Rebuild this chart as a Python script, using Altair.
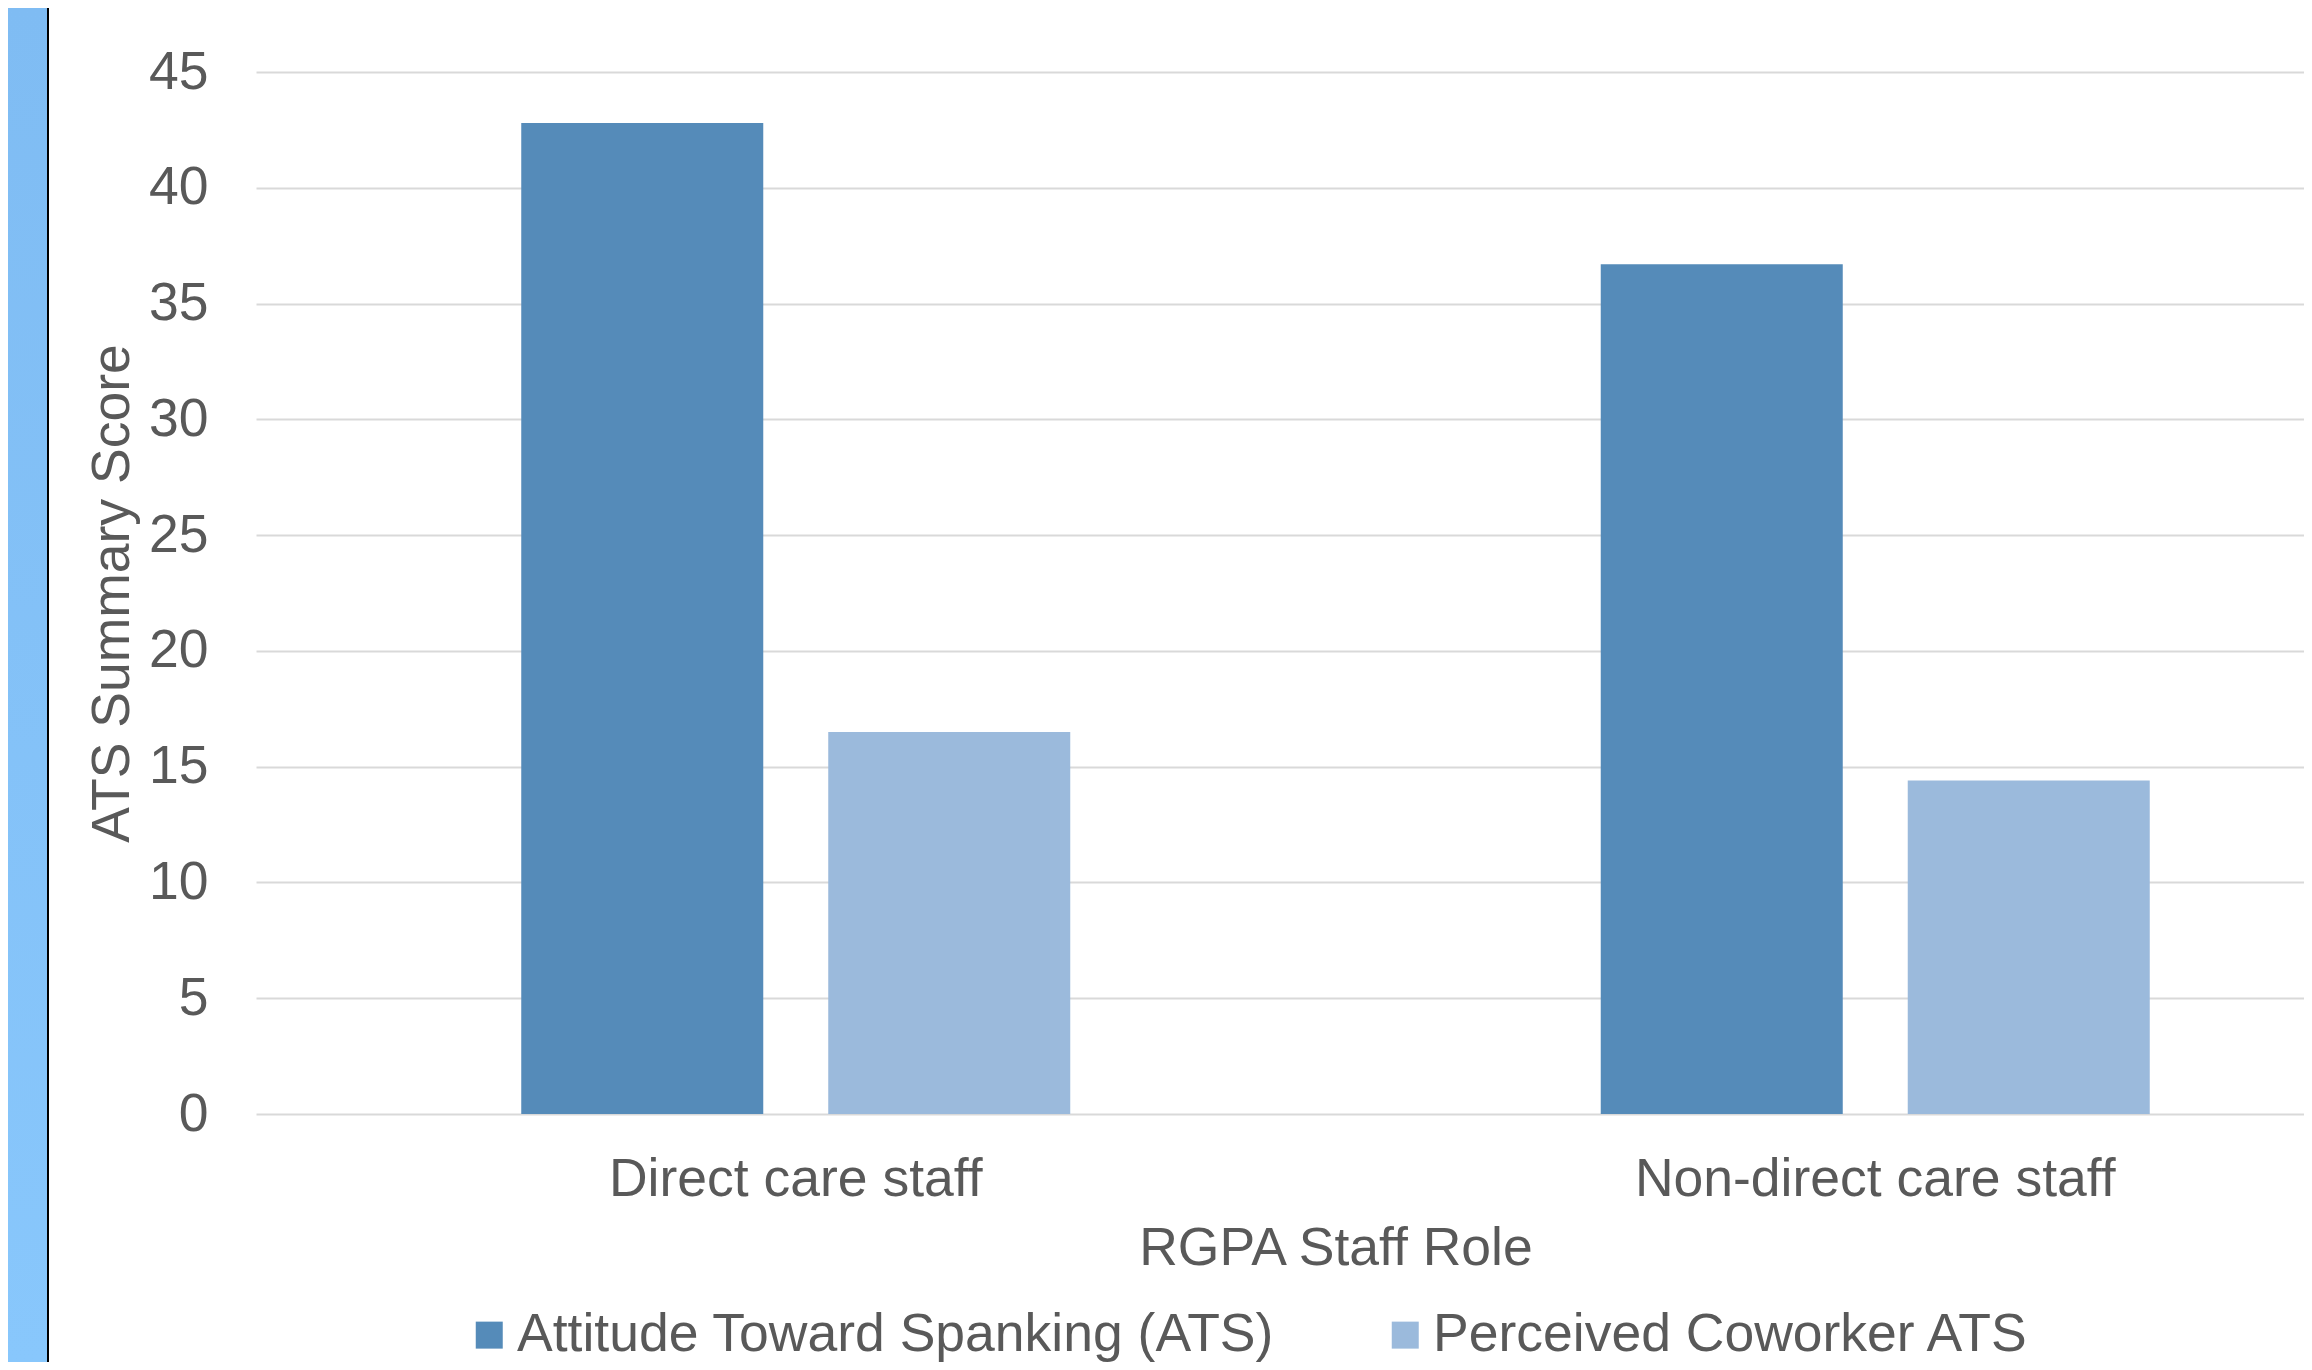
import altair as alt
import pandas as pd

roles = ["Direct care staff", "Non-direct care staff"]
series = ["Attitude Toward Spanking (ATS)", "Perceived Coworker ATS"]
ats_scores = [42.8, 36.7]
coworker_scores = [16.5, 14.4]
y_ticks = [0, 5, 10, 15, 20, 25, 30, 35, 40, 45]
bar_colors = ["#558BB9", "#9BBADC"]

rows = []
for r, a, c in zip(roles, ats_scores, coworker_scores):
    rows.append({"role": r, "series": series[0], "value": a})
    rows.append({"role": r, "series": series[1], "value": c})
df = pd.DataFrame(rows)

FONT = "Liberation Sans"
TXT = "#595959"
FS = 53.5

bars = alt.Chart(df).mark_bar().encode(
    x=alt.X(
        "role:N",
        sort=roles,
        scale=alt.Scale(domain=roles, range=[0, 2159], paddingInner=0, paddingOuter=0),
        axis=alt.Axis(
            title="RGPA Staff Role", labelAngle=0, ticks=False, tickSize=0, domain=False,
            labelFont=FONT, labelFontSize=FS, labelColor=TXT, labelPadding=81,
            labelBaseline="alphabetic", labelLimit=1000,
            titleFont=FONT, titleFontSize=FS, titleColor=TXT, titleFontWeight="normal",
            titleX=1079.5, titleY=150, titleBaseline="alphabetic", titleAlign="center",
        ),
    ),
    xOffset=alt.XOffset(
        "series:N", sort=series,
        scale=alt.Scale(domain=series, paddingInner=0.2117, paddingOuter=0.864),
    ),
    y=alt.Y(
        "value:Q",
        scale=alt.Scale(domain=[0, 45], nice=False),
        axis=alt.Axis(
            values=y_ticks, title="ATS Summary Score", ticks=False, tickSize=0, domain=False,
            grid=True, gridColor="#D9D9D9", gridWidth=2,
            labelFont=FONT, labelFontSize=FS, labelColor=TXT, labelPadding=48,
            titleFont=FONT, titleFontSize=FS, titleColor=TXT, titleFontWeight="normal",
            titleX=-128, titleY=521, titleAngle=-90, titleBaseline="alphabetic", titleAlign="center",
        ),
    ),
    color=alt.Color(
        "series:N", sort=series,
        scale=alt.Scale(domain=series, range=bar_colors),
        legend=alt.Legend(
            title=None, orient="none", legendX=206.5, legendY=1236, direction="horizontal",
            symbolType="square", symbolSize=729, symbolStrokeWidth=0,
            labelFont=FONT, labelFontSize=FS, labelColor=TXT, labelOffset=1,
            labelLimit=0, columnPadding=104, padding=0,
        ),
    ),
)

deco = pd.DataFrame({"k": [0]})
stripe = alt.Chart(deco).mark_rect(
    color=alt.Gradient(
        gradient="linear",
        stops=[alt.GradientStop(color="#7FBCF3", offset=0), alt.GradientStop(color="#88C7FC", offset=1)],
        x1=0, x2=0, y1=0, y2=1,
    )
).encode(x=alt.value(-248), x2=alt.value(-209), y=alt.value(-64), y2=alt.value(1290))
edge = alt.Chart(deco).mark_rect(color="black").encode(
    x=alt.value(-209), x2=alt.value(-207), y=alt.value(-64), y2=alt.value(1290)
)

chart = alt.layer(stripe, edge, bars).properties(
    width=2048, height=1042,
    autosize=alt.AutoSizeParams(type="none"),
    padding={"left": 248, "top": 64, "right": 0, "bottom": 248},
    background="white",
).configure_view(stroke=None)

chart.save("out.html", embed_options={"renderer": "svg", "actions": False})
